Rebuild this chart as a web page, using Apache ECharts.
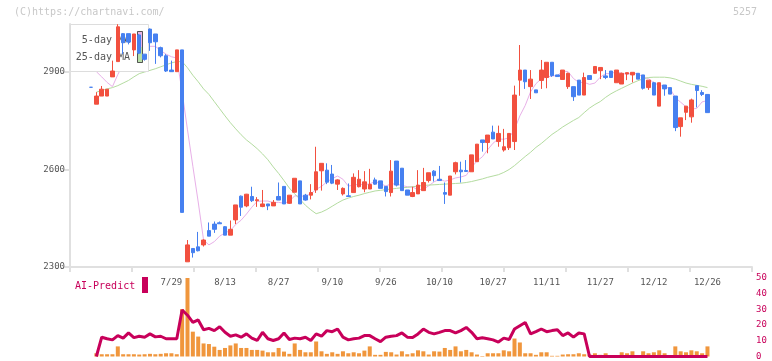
<!DOCTYPE html>
<html><head><meta charset="utf-8">
<script src="https://cdn.jsdelivr.net/npm/echarts@6/dist/echarts.min.js"></script>
<style>html,body{margin:0;padding:0;background:#fff}#c{width:772px;height:361px}</style>
</head><body><div id="c"></div>
<script>
// ---- data ----
const tickLabels = ['7/29','8/13','8/27','9/10','9/26','10/10','10/27','11/11','11/27','12/12','12/26'];
const tickCandleIndex = [15,25,35,45,55,65,75,85,95,105,115];
const priceTicks = [2300, 2600, 2900];
const aiTicks = [0, 10, 20, 30, 40, 50];

// [open, close, low, high]
const candles = [
[2853,2853,2853,2853],[2801,2826,2801,2838],[2826,2847,2826,2857],[2826,2847,2826,2847],[2885,2903,2885,2935],
[2932,3039,2932,3047],[3018,2990,2955,3020],[3018,2992,2985,3018],[2968,3017,2949,3017],[3014,2958,2955,3017],
[2955,2939,2935,2955],[3032,2990,2965,3034],[3017,2993,2925,3017],[2975,2950,2945,2978],[2950,2903,2900,2955],
[2906,2901,2900,2935],[2901,2968,2901,2968],[2968,2468,2468,2968],[2316,2368,2316,2383],[2357,2344,2329,2358],
[2362,2350,2348,2408],[2368,2383,2363,2385],[2412,2395,2395,2437],[2432,2416,2405,2440],[2436,2433,2433,2440],
[2424,2398,2398,2426],[2398,2416,2398,2443],[2445,2491,2432,2491],[2518,2484,2457,2520],[2488,2524,2484,2525],
[2517,2504,2500,2547],[2504,2507,2485,2515],[2486,2494,2484,2537],[2494,2488,2475,2494],[2488,2499,2488,2506],
[2517,2506,2506,2560],[2548,2494,2494,2548],[2496,2521,2494,2521],[2530,2573,2530,2573],[2565,2494,2494,2565],
[2521,2506,2504,2525],[2521,2529,2508,2555],[2537,2593,2528,2670],[2596,2619,2535,2619],[2598,2561,2555,2619],
[2586,2558,2555,2614],[2555,2568,2537,2570],[2525,2542,2520,2545],[2519,2517,2516,2557],[2529,2576,2529,2588],
[2547,2570,2545,2598],[2540,2562,2530,2595],[2540,2554,2540,2602],[2568,2555,2553,2575],[2565,2542,2542,2565],
[2548,2532,2517,2548],[2529,2595,2517,2629],[2626,2552,2548,2626],[2604,2535,2535,2604],[2537,2521,2521,2537],
[2517,2529,2515,2547],[2525,2552,2525,2598],[2535,2560,2535,2605],[2566,2590,2560,2590],[2595,2581,2563,2598],
[2570,2566,2565,2611],[2529,2524,2494,2560],[2521,2580,2521,2580],[2593,2621,2585,2624],[2598,2593,2560,2624],
[2597,2594,2593,2629],[2593,2645,2593,2645],[2624,2678,2624,2678],[2691,2683,2655,2691],[2683,2706,2650,2706],
[2715,2694,2694,2735],[2686,2711,2670,2735],[2660,2670,2655,2725],[2667,2711,2660,2711],[2686,2829,2660,2858],
[2875,2906,2827,2983],[2906,2870,2848,2906],[2855,2878,2817,2906],[2845,2836,2836,2845],[2874,2906,2848,2937],
[2883,2930,2850,2930],[2930,2889,2885,2930],[2891,2886,2886,2891],[2877,2906,2877,2906],[2855,2896,2848,2898],
[2855,2824,2811,2855],[2875,2829,2829,2875],[2829,2883,2829,2898],[2889,2877,2877,2889],[2896,2917,2896,2917],
[2904,2914,2878,2914],[2888,2883,2878,2906],[2903,2883,2883,2903],[2867,2906,2867,2906],[2863,2896,2863,2898],
[2894,2898,2875,2898],[2891,2899,2868,2899],[2896,2878,2878,2896],[2891,2850,2846,2891],[2852,2875,2845,2875],
[2867,2829,2829,2870],[2795,2867,2795,2867],[2860,2848,2827,2860],[2852,2832,2832,2852],[2826,2729,2718,2826],
[2732,2759,2701,2759],[2776,2795,2752,2795],[2762,2814,2744,2818],[2858,2843,2791,2858],[2837,2831,2826,2844],
[2831,2775,2775,2831]
];

const ma5 = [
null,2901,2885,2868,2855,2892,2925,2953,2987,2998,
2978,2979,2979,2966,2955,2947,2943,2838,2722,2610,
2500,2383,2368,2378,2395,2405,2412,2431,2444,2463,
2484,2502,2503,2503,2498,2499,2496,2502,2519,2518,
2518,2525,2539,2548,2562,2572,2580,2570,2549,2552,
2555,2553,2556,2563,2557,2549,2556,2555,2551,2547,
2546,2538,2539,2550,2562,2570,2564,2568,2574,2577,
2582,2607,2626,2639,2661,2681,2694,2693,2698,2723,
2765,2797,2839,2864,2879,2884,2888,2889,2903,2901,
2880,2868,2868,2862,2866,2884,2895,2895,2901,2896,
2893,2896,2895,2884,2880,2866,2860,2854,2850,2821,
2807,2793,2786,2788,2808,2812
];

const ma25 = [
null,2838,2843,2848,2852,2858,2866,2874,2885,2895,
2900,2905,2910,2916,2922,2928,2932,2932,2913,2890,
2870,2848,2831,2809,2787,2765,2744,2725,2707,2691,
2678,2664,2648,2630,2608,2588,2566,2543,2525,2508,
2490,2476,2464,2469,2477,2487,2497,2506,2512,2517,
2521,2526,2530,2534,2536,2538,2540,2542,2544,2545,
2547,2549,2551,2552,2553,2554,2555,2556,2557,2558,
2560,2563,2567,2571,2576,2580,2584,2591,2600,2612,
2626,2640,2653,2668,2680,2694,2708,2719,2731,2741,
2751,2760,2775,2789,2800,2809,2822,2833,2842,2850,
2858,2866,2873,2879,2883,2884,2884,2884,2882,2878,
2872,2866,2862,2859,2856,2852
];

const volume = [
null,33,23,23,23,103,23,23,23,20,
23,27,23,27,33,33,23,483,800,253,
203,133,127,100,67,87,113,133,87,87,
67,67,60,43,43,87,50,27,133,67,
43,43,153,53,27,43,27,53,33,43,
33,60,103,17,17,47,43,20,53,23,
33,63,53,20,53,50,87,67,103,53,
67,43,20,5,33,33,33,63,53,183,
143,33,33,17,43,43,7,7,20,23,
23,33,23,20,33,17,33,10,10,43,
33,53,10,53,33,43,63,33,10,103,
53,43,63,53,33,103
];

const aiPredict = [
null,0,12.3,11.3,10.6,13.3,11.7,15,12,12.9,
12.3,14.4,12.5,12.9,11.3,11.3,11.3,29.6,26.3,21.7,
23.3,17,17.9,16.5,19,15.4,12.9,13.8,12.3,14.4,
11.7,10.2,15.4,11.3,10.2,11.3,15,10.8,11.7,11.3,
12.3,10.2,14.4,12.9,16.5,15.8,17.5,12.3,10.6,11.3,
11.7,13.3,13.3,11.3,9.5,12.3,12.9,13.3,15,12.3,
12.1,14.4,17.5,15.4,14.4,15.4,16.5,16.5,15,16.5,
18.5,15.4,11.3,11.9,11.3,10.6,9.2,11.7,10.8,17.5,
19.6,21.7,14.4,15.8,17.5,15.8,16.5,17.1,13.3,15,
12.3,15,14.4,0,0,0,0,0,0,0,
0,0,0,0,0,0,0,0,0,0,
0,0,0,0,0,0
];

// ---- layout helpers (slots of the category axis) ----
const LEAD = 3, SLOTS = 127;
const n = candles.length;
function pad(arr) {
  const out = [];
  for (let i = 0; i < SLOTS; i++) {
    const k = i - LEAD;
    out.push(k >= 0 && k < n && arr[k] != null ? arr[k] : '-');
  }
  return out;
}
const categories = Array.from({length: SLOTS}, (_, i) => 's' + i);
const labelAt = {};
tickCandleIndex.forEach((k, j) => { labelAt[k + LEAD] = tickLabels[j]; });

const RED = '#f2503f', BLUE = '#4680f0';
const MONO = 'DejaVu Sans Mono';
const gL = 72.24, gW = 680.8;
const Y_MIN = 2300, Y_MAX = 3047.7;

const chart = echarts.init(document.getElementById('c'), null, {renderer: 'canvas'});
chart.setOption({
  animation: false,
  backgroundColor: '#fff',
  grid: [
    {left: 70, top: 24, width: 682, height: 243},
    {left: gL, top: 24, width: gW, height: 243},
    {left: gL, top: 278, width: gW, height: 80}
  ],
  xAxis: [
    {gridIndex: 0, type: 'value', min: 0, max: 11, interval: 1,
     axisLine: {show: true, lineStyle: {color: '#e0e0e0', width: 2}},
     axisTick: {show: true, length: 5, lineStyle: {color: '#e0e0e0', width: 2}},
     axisLabel: {show: false}, splitLine: {show: false}},
    {gridIndex: 1, type: 'category', data: categories, boundaryGap: true,
     axisLine: {show: false}, axisTick: {show: false}, splitLine: {show: false},
     axisLabel: {show: true, interval: (idx) => labelAt[idx] !== undefined,
       formatter: (v, idx) => labelAt[idx] || '', color: '#555', fontFamily: MONO, fontSize: 9, margin: 11}},
    {gridIndex: 2, type: 'category', data: categories, boundaryGap: true, show: false}
  ],
  yAxis: [
    {gridIndex: 0, type: 'value', min: Y_MIN, max: Y_MAX,
     axisLine: {show: true, lineStyle: {color: '#e0e0e0', width: 2}},
     axisTick: {show: true, length: 6, customValues: priceTicks, lineStyle: {color: '#e0e0e0', width: 2}},
     axisLabel: {show: true, customValues: priceTicks, formatter: (v) => String(v),
       color: '#555', fontFamily: MONO, fontSize: 9, margin: 5},
     splitLine: {show: false}},
    {gridIndex: 1, type: 'value', min: Y_MIN, max: Y_MAX, show: false},
    {gridIndex: 2, type: 'value', min: 0, max: 50, interval: 10, position: 'right',
     axisLine: {show: false}, axisTick: {show: false}, splitLine: {show: false},
     axisLabel: {show: true, customValues: aiTicks, formatter: (v) => String(v),
       color: '#c8005a', fontFamily: MONO, fontSize: 9, margin: 3}},
    {gridIndex: 2, type: 'value', min: 0, max: 800, show: false}
  ],
  graphic: {elements: [
    {type: 'text', x: 14, y: 12, z: 1, style: {text: '(C)https://chartnavi.com/', font: '10px ' + MONO, fill: '#c8c8c8', verticalAlign: 'middle'}},
    {type: 'text', x: 757, y: 12, z: 1, style: {text: '5257', font: '10px ' + MONO, fill: '#c8c8c8', align: 'right', verticalAlign: 'middle'}},
    {type: 'rect', z: 3, shape: {x: 70.5, y: 24.5, width: 78, height: 47}, style: {fill: '#fff', stroke: '#dddddd', lineWidth: 1}},
    {type: 'text', x: 130, y: 40.5, z: 3, style: {text: '5-day MA', font: '10px ' + MONO, fill: '#555', align: 'right', verticalAlign: 'middle'}},
    {type: 'text', x: 130, y: 57, z: 3, style: {text: '25-day MA', font: '10px ' + MONO, fill: '#555', align: 'right', verticalAlign: 'middle'}},
    {type: 'rect', z: 3, shape: {x: 137, y: 31, width: 6, height: 16}, style: {fill: '#e8b4e8'}},
    {type: 'rect', z: 3, shape: {x: 137, y: 47, width: 6, height: 16}, style: {fill: '#b8e0a8'}},
    {type: 'rect', z: 3, shape: {x: 137.5, y: 31.5, width: 5, height: 31}, style: {fill: 'none', stroke: '#555', lineWidth: 1}},
    {type: 'text', x: 75, y: 286, z: 3, style: {text: 'AI-Predict', font: '10px ' + MONO, fill: '#c8005a', verticalAlign: 'middle'}},
    {type: 'rect', z: 3, shape: {x: 142, y: 277, width: 6, height: 16}, style: {fill: '#c8005a'}}
  ]},
  series: [
    {name: '5-day MA', type: 'line', xAxisIndex: 1, yAxisIndex: 1, data: pad(ma5), symbol: 'none', z: 1,
     lineStyle: {color: '#e8b0e8', width: 1}, connectNulls: false},
    {name: '25-day MA', type: 'line', xAxisIndex: 1, yAxisIndex: 1, data: pad(ma25), symbol: 'none', z: 1,
     lineStyle: {color: '#b4dca0', width: 1}, connectNulls: false},
    {name: 'price', type: 'candlestick', xAxisIndex: 1, yAxisIndex: 1, data: pad(candles), z: 5, barWidth: 4,
     itemStyle: {color: RED, color0: BLUE, borderColor: RED, borderColor0: BLUE, borderWidth: 1}},
    {name: 'volume', type: 'bar', xAxisIndex: 2, yAxisIndex: 3, data: pad(volume), barWidth: 4, z: 1,
     itemStyle: {color: '#f0963c'}},
    {name: 'AI-Predict', type: 'line', xAxisIndex: 2, yAxisIndex: 2, data: pad(aiPredict), symbol: 'none', z: 4,
     lineStyle: {color: '#c8005a', width: 3}, connectNulls: false}
  ]
});
</script>
</body></html>
